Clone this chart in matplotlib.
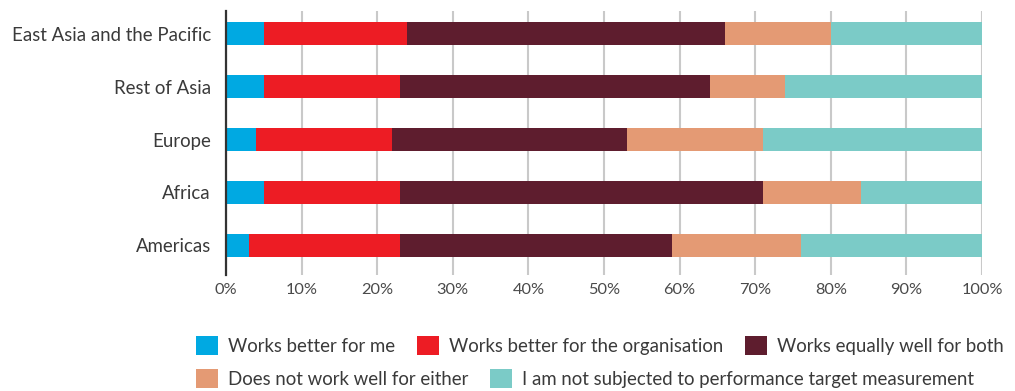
import matplotlib
matplotlib.use("Agg")
import matplotlib.pyplot as plt
from matplotlib.patches import Patch
import numpy as np

plt.rcParams['font.family'] = ['Lato', 'DejaVu Sans']

regions = ["East Asia and the Pacific", "Rest of Asia", "Europe", "Africa", "Americas"]
series_names = [
    "Works better for me",
    "Works better for the organisation",
    "Works equally well for both",
    "Does not work well for either",
    "I am not subjected to performance target measurement",
]
better_for_me = [5, 5, 4, 5, 3]
better_for_org = [19, 18, 18, 18, 20]
equally_well = [42, 41, 31, 48, 36]
not_well_either = [14, 10, 18, 13, 17]
not_subjected = [20, 26, 29, 16, 24]
colors = ["#00A9E2", "#ED1C24", "#5E1D2E", "#E49A74", "#7BCBC7"]
x_ticks = list(range(0, 101, 10))
x_tick_labels = [f"{t}%" for t in x_ticks]

W, H = 1015, 391
fig = plt.figure(figsize=(W / 100, H / 100), dpi=100)
ax = fig.add_axes([226 / W, 1 - 275 / H, (982 - 226) / W, (275 - 11) / H])

ypos = np.arange(len(regions))
left = np.zeros(len(regions))
all_series = [better_for_me, better_for_org, equally_well, not_well_either, not_subjected]
for vals, col in zip(all_series, colors):
    ax.barh(ypos, vals, left=left, height=23 / 53, color=col, zorder=3)
    left += np.array(vals)

ax.set_xlim(0, 100)
ax.set_ylim(len(regions) - 1 + 0.557, -0.425)
ax.set_yticks(ypos)
ax.set_yticklabels(regions, fontsize=13.4, color="#3a3a3a")
ax.set_xticks(x_ticks)
ax.set_xticklabels(x_tick_labels, fontsize=11.8, color="#4a4a4a")
ax.tick_params(axis="y", length=0, pad=10.8)
ax.tick_params(axis="x", length=0, pad=5.5)
ax.grid(axis="x", color="#c9c9c9", linewidth=1.5, zorder=0)
for s in ["top", "right", "bottom"]:
    ax.spines[s].set_visible(False)
ax.spines["left"].set_color("#333333")
ax.spines["left"].set_linewidth(1.6)
ax.spines["left"].set_zorder(4)

fs = 13.4
px = fs * 100 / 72
leg_kw = dict(
    frameon=False, loc="upper left", fontsize=fs, borderpad=0, borderaxespad=0,
    handlelength=22 / px, handleheight=22 / px, handletextpad=10 / px,
    columnspacing=22 / px, labelcolor="#3a3a3a",
)
h = [Patch(facecolor=c, edgecolor="none") for c in colors]
fig.legend(h[:3], series_names[:3], ncol=3, bbox_to_anchor=(196 / W, 1 - 336 / H), **leg_kw)
fig.legend(h[3:], series_names[3:], ncol=2, bbox_to_anchor=(196 / W, 1 - 369 / H), **leg_kw)

fig.savefig("out.png", dpi=100)
